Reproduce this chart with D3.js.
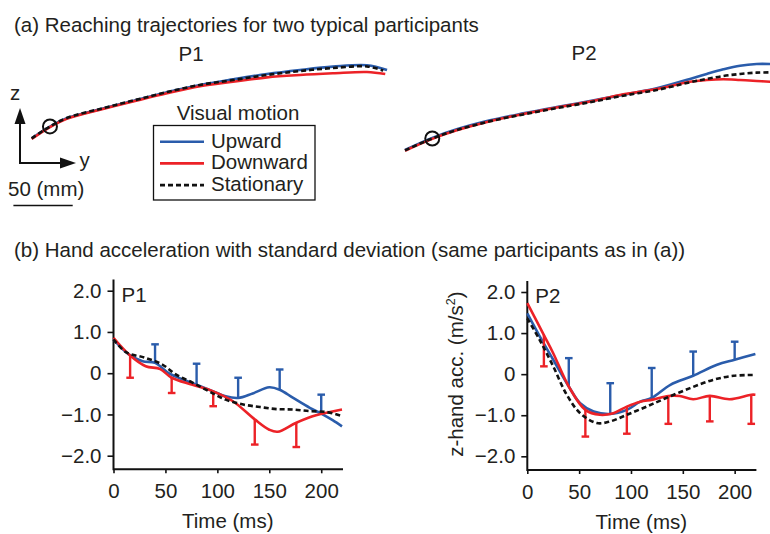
<!DOCTYPE html>
<html>
<head>
<meta charset="utf-8">
<script src="https://cdn.jsdelivr.net/npm/d3@7"></script>
<style>
  body { margin: 0; background: #fff; }
  svg { display: block; font-family: "Liberation Sans", Arial, sans-serif; }
</style>
</head>
<body>
<svg id="chart" width="770" height="534"></svg>
<script>
var svg = d3.select("#chart");
var ink = "#231f20";
var blue = "#2a5cab";
var red = "#ec2227";
var fs = 20.5;

// ---- (a) trajectories, [y, z] in mm from the start point ----
var p1Up = [[0,0],[15.4,9.9],[29.5,16.9],[57.6,24.5],[85.4,31.5],[114.1,38.8],[141.9,44.9],[169.7,49.7],[198.4,54.2],[226.2,57.6],[254,60.4],[282.7,61.6],[299.6,57.6]];
var p1Down = [[0,-0.6],[15.4,9.4],[29.5,16.4],[57.6,24],[85.4,31],[114.1,38],[141.9,43.9],[169.7,47.7],[198.4,51.4],[226.2,53.4],[254,54.8],[282.7,55.9],[298.1,54.2]];
var p1Still = [[0,0],[15.4,10],[29.5,17.1],[57.6,24.8],[85.4,31.8],[114.1,39],[141.9,45],[169.7,49.1],[198.4,53.4],[226.2,56.7],[254,59.3],[282.7,60.6],[296.4,57.2]];

var p2Up = [[0,0],[23,10.2],[43.6,17.4],[71.7,25],[99.7,30.9],[127.9,36.2],[156,41.2],[184.1,46.6],[212.2,52],[240.3,59.9],[254.4,64.1],[268.4,68],[282.5,71.1],[296.5,72.5],[307.8,72.5]];
var p2Down = [[0,-0.6],[23,9.4],[43.6,16.6],[71.7,24.3],[99.7,30.3],[127.9,35.8],[156,40.9],[184.1,47],[212.2,51.4],[240.3,57.6],[254.4,59],[268.4,59.6],[282.5,59],[296.5,58.2],[307.8,57.6]];
var p2Still = [[0,-0.3],[23,9.7],[43.6,16.8],[71.7,24.2],[99.7,30],[127.9,35.3],[156,40.3],[184.1,45.8],[212.2,50.6],[240.3,57.1],[254.4,59.9],[268.4,62.4],[282.5,64.1],[296.5,65.2],[307.8,65.5]];

var scaleBarMm = 50;

// ---- (b) hand acceleration (m/s^2) vs time (ms) ----
var tP1Up = [0, 15, 28, 40, 54, 80, 96, 108, 120, 134, 150, 160, 173, 189, 200, 211, 220];
var aP1Up = [0.82, 0.45, 0.29, 0.25, -0.01, -0.28, -0.44, -0.56, -0.6, -0.49, -0.34, -0.40, -0.6, -0.84, -0.98, -1.14, -1.29];
var tP1Down = [0, 16, 31, 45, 56, 76, 96, 115, 136, 150, 158, 176, 195, 220];
var aP1Down = [0.86, 0.43, 0.17, 0.1, -0.11, -0.28, -0.44, -0.68, -1.12, -1.37, -1.42, -1.2, -1.02, -0.88];
var tP1Still = [0, 12, 31, 47, 60, 76, 92, 108, 125, 141, 157, 173, 189, 205, 220];
var aP1Still = [0.82, 0.51, 0.37, 0.21, -0.03, -0.23, -0.44, -0.64, -0.76, -0.82, -0.87, -0.88, -0.92, -0.94, -1.04];
var sdTimesP1Up = [40, 80, 120, 160, 200];
var sdTopP1Up = [0.70, 0.23, -0.11, 0.09, -0.52];
var sdTimesP1Down = [16, 56, 96, 136, 176];
var sdBotP1Down = [-0.11, -0.48, -0.80, -1.73, -1.79];

var tP2Up = [0, 12, 25, 40, 51, 64, 80, 96, 109, 120, 138, 160, 183, 200, 220];
var aP2Up = [1.48, 0.92, 0.35, -0.30, -0.71, -0.91, -0.97, -0.87, -0.67, -0.58, -0.26, -0.04, 0.23, 0.35, 0.49];
var tP2Down = [0, 16, 25, 40, 56, 70, 83, 96, 109, 121, 136, 147, 160, 176, 195, 216, 220];
var aP2Down = [1.73, 0.95, 0.51, -0.30, -0.87, -0.99, -0.95, -0.79, -0.67, -0.62, -0.53, -0.53, -0.61, -0.53, -0.61, -0.5, -0.5];
var tP2Still = [0, 12, 25, 38, 51, 67, 80, 96, 115, 134, 157, 179, 199, 220];
var aP2Still = [1.36, 0.83, 0.19, -0.50, -0.95, -1.19, -1.15, -0.99, -0.79, -0.58, -0.34, -0.14, -0.04, -0.02];
var sdTimesP2Up = [40, 80, 120, 160, 200];
var sdTopP2Up = [0.39, -0.22, 0.15, 0.55, 0.79];
var sdTimesP2Down = [16, 56, 96, 136, 176, 216];
var sdBotP2Down = [0.19, -1.52, -1.45, -1.21, -1.15, -1.21];

var timeTicks = [0, 50, 100, 150, 200];
var accTicks = [2, 1, 0, -1, -2];
var accTickLabels = ["2.0", "1.0", "0", "\u22121.0", "\u22122.0"];

function zip(t, v) { return t.map(function(d, i) { return [d, v[i]]; }); }

// ---------- titles ----------
svg.append("text").attr("x", 14).attr("y", 31.5).attr("fill", ink)
  .attr("font-size", fs).text("(a) Reaching trajectories for two typical participants");
svg.append("text").attr("x", 14).attr("y", 256.5).attr("fill", ink)
  .attr("font-size", fs).text("(b) Hand acceleration with standard deviation (same participants as in (a))");

// ---------- (a) trajectories ----------
var mm = d3.scaleLinear().domain([0, 50]).range([0, 59.3]);

function trajPanel(ox, oy, label, lx, ly, up, down, still) {
  var g = svg.append("g").attr("transform", "translate(" + ox + "," + oy + ")");
  var line = d3.line().x(function(d) { return mm(d[0]); }).y(function(d) { return -mm(d[1]); })
    .curve(d3.curveCatmullRom.alpha(0.5));
  g.append("path").attr("d", line(up)).attr("fill", "none").attr("stroke", blue).attr("stroke-width", 2.6);
  g.append("path").attr("d", line(down)).attr("fill", "none").attr("stroke", red).attr("stroke-width", 2.6);
  g.append("path").attr("d", line(still)).attr("fill", "none").attr("stroke", "#111")
    .attr("stroke-width", 2.6).attr("stroke-dasharray", "5,3");
  g.append("circle").attr("cx", mm(still[1][0])).attr("cy", -mm(still[1][1])).attr("r", 7)
    .attr("fill", "none").attr("stroke", "#111").attr("stroke-width", 2);
  svg.append("text").attr("x", lx).attr("y", ly).attr("text-anchor", "middle").attr("fill", ink)
    .attr("font-size", fs).text(label);
}
trajPanel(31.7, 138.3, "P1", 191, 60.5, p1Up, p1Down, p1Still);
trajPanel(405, 150, "P2", 584, 60, p2Up, p2Down, p2Still);

// axes indicator
var ax = svg.append("g");
ax.append("line").attr("x1", 20).attr("y1", 163).attr("x2", 20).attr("y2", 122).attr("stroke", "#111").attr("stroke-width", 2);
ax.append("polygon").attr("points", "20,108 14.5,124 25.5,124").attr("fill", "#111");
ax.append("line").attr("x1", 19).attr("y1", 163).attr("x2", 62).attr("y2", 163).attr("stroke", "#111").attr("stroke-width", 2);
ax.append("polygon").attr("points", "76,163 60,157.5 60,168.5").attr("fill", "#111");
ax.append("text").attr("x", 10).attr("y", 100).attr("fill", ink).attr("font-size", fs).text("z");
ax.append("text").attr("x", 79.5).attr("y", 167).attr("fill", ink).attr("font-size", fs).text("y");
ax.append("text").attr("x", 8).attr("y", 195.5).attr("fill", ink).attr("font-size", fs).text("50 (mm)");
ax.append("line").attr("x1", 13.4).attr("x2", 13.4 + mm(scaleBarMm)).attr("y1", 205.5).attr("y2", 205.5)
  .attr("stroke", "#111").attr("stroke-width", 1.5);

// legend
var legendItems = [
  { name: "Upward", color: blue, dash: null },
  { name: "Downward", color: red, dash: null },
  { name: "Stationary", color: "#111", dash: "5,3" }
];
var lg = svg.append("g");
lg.append("text").attr("x", 238).attr("y", 120).attr("text-anchor", "middle").attr("fill", ink)
  .attr("font-size", fs).text("Visual motion");
lg.append("rect").attr("x", 153.5).attr("y", 125.5).attr("width", 161.5).attr("height", 74.5)
  .attr("fill", "none").attr("stroke", "#111").attr("stroke-width", 1.3);
legendItems.forEach(function(d, i) {
  var yy = 141.7 + i * 21.7;
  lg.append("line").attr("x1", 160).attr("x2", 204).attr("y1", yy).attr("y2", yy)
    .attr("stroke", d.color).attr("stroke-width", 2.6).attr("stroke-dasharray", d.dash);
  lg.append("text").attr("x", 211).attr("y", yy + 6).attr("fill", ink).attr("font-size", fs).text(d.name);
});

// ---------- (b) acceleration panels ----------
function accPanel(opt) {
  var x = d3.scaleLinear().domain([0, 220]).range([opt.x0, opt.x1]);
  var y = d3.scaleLinear().domain([-2, 2]).range([opt.yMin2, opt.yPlus2]);
  var g = svg.append("g");

  var xAxis = g.append("g").attr("transform", "translate(0," + opt.base + ")")
    .call(d3.axisBottom(x).tickValues(timeTicks).tickSize(4).tickSizeOuter(0).tickPadding(10));
  var yAxis = g.append("g").attr("transform", "translate(" + opt.x0 + ",0)")
    .call(d3.axisLeft(y).tickValues(accTicks).tickSize(6).tickPadding(6)
      .tickFormat(function(d, i) { return accTickLabels[i]; }));
  [xAxis, yAxis].forEach(function(a) {
    a.select(".domain").remove();
    a.selectAll("line").attr("stroke", "#111").attr("stroke-width", 1.6);
    a.selectAll("text").attr("fill", ink).attr("font-size", fs)
      .attr("font-family", "Liberation Sans, Arial, sans-serif");
  });
  g.append("path").attr("d", "M" + opt.x0 + "," + y(2.27) + "V" + opt.base + "H" + (x(220) + 1))
    .attr("fill", "none").attr("stroke", "#111").attr("stroke-width", 2);

  var line = d3.line().x(function(d) { return x(d[0]); }).y(function(d) { return y(d[1]); })
    .curve(d3.curveCatmullRom.alpha(0.5));

  function bars(times, ends, series, color) {
    times.forEach(function(t, i) {
      var m = series.find(function(d) { return d[0] === t; });
      var start = m ? m[1] : 0;
      g.append("line").attr("x1", x(t)).attr("x2", x(t)).attr("y1", y(start)).attr("y2", y(ends[i]))
        .attr("stroke", color).attr("stroke-width", 2.4);
      g.append("line").attr("x1", x(t) - 3.8).attr("x2", x(t) + 3.8).attr("y1", y(ends[i])).attr("y2", y(ends[i]))
        .attr("stroke", color).attr("stroke-width", 2.4);
    });
  }
  var up = zip(opt.tUp, opt.aUp), down = zip(opt.tDown, opt.aDown), still = zip(opt.tStill, opt.aStill);
  bars(opt.sdTUp, opt.sdUp, up, blue);
  g.append("path").attr("d", line(up)).attr("fill", "none").attr("stroke", blue).attr("stroke-width", 2.6);
  bars(opt.sdTDown, opt.sdDown, down, red);
  g.append("path").attr("d", line(down)).attr("fill", "none").attr("stroke", red).attr("stroke-width", 2.6);
  g.append("path").attr("d", line(still)).attr("fill", "none").attr("stroke", "#111")
    .attr("stroke-width", 2.6).attr("stroke-dasharray", "5,3");

  g.append("text").attr("x", opt.x0 + 8).attr("y", y(2) + 11).attr("fill", ink).attr("font-size", fs).text(opt.label);
  g.append("text").attr("x", (opt.x0 + opt.x1) / 2).attr("y", opt.base + 58.5).attr("text-anchor", "middle")
    .attr("fill", ink).attr("font-size", fs).text("Time (ms)");
  if (opt.yLabel) {
    var yl = g.append("text").attr("transform", "translate(" + (opt.x0 - 64.3) + "," + y(0) + ") rotate(-90)")
      .attr("text-anchor", "middle").attr("fill", ink).attr("font-size", fs);
    yl.append("tspan").text("z-hand acc. (m/s");
    yl.append("tspan").attr("font-size", 12.5).attr("dy", -8).text("2");
    yl.append("tspan").attr("dy", 8).text(")");
  }
}

accPanel({ x0: 113.5, x1: 342, yMin2: 455.7, yPlus2: 290.7, base: 469.3, label: "P1", yLabel: false,
  tUp: tP1Up, aUp: aP1Up, tDown: tP1Down, aDown: aP1Down, tStill: tP1Still, aStill: aP1Still,
  sdTUp: sdTimesP1Up, sdUp: sdTopP1Up, sdTDown: sdTimesP1Down, sdDown: sdBotP1Down });
accPanel({ x0: 527.3, x1: 755.4, yMin2: 456.3, yPlus2: 292, base: 470, label: "P2", yLabel: true,
  tUp: tP2Up, aUp: aP2Up, tDown: tP2Down, aDown: aP2Down, tStill: tP2Still, aStill: aP2Still,
  sdTUp: sdTimesP2Up, sdUp: sdTopP2Up, sdTDown: sdTimesP2Down, sdDown: sdBotP2Down });
</script>
</body>
</html>
